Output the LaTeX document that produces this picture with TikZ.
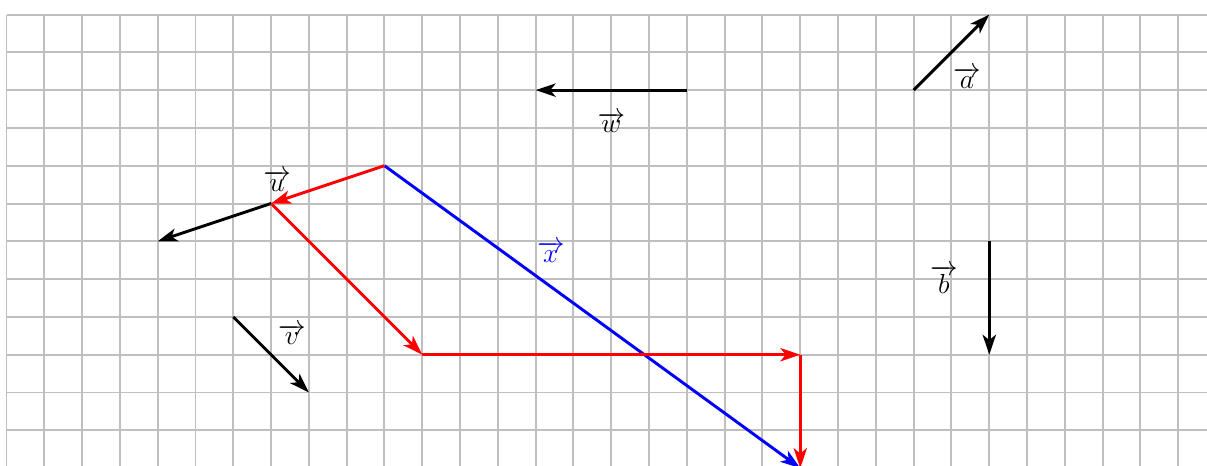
\documentclass[tikz,border=0pt]{standalone}
\usetikzlibrary{arrows.meta}
\begin{document}
\begin{tikzpicture}[
  gridline/.style={draw=gray!50,line width=1.5pt},
  vecarrow/.style={line width=2.2pt,-{Stealth[length=15pt,width=10pt,inset=4pt]}},
  lbl/.style={inner sep=0pt,font=\fontsize{21}{25}\selectfont}
]
\useasboundingbox (-0.172,0.384) rectangle (31.76,-11.92);
\clip (-0.172,0.384) rectangle (31.76,-11.92);
\draw[gridline] (0,0) grid (32,-12);
% points
\coordinate (P0) at (10,-4);
\coordinate (P1) at (7,-5);
\coordinate (U2) at (4,-6);
\coordinate (P2) at (11,-9);
\coordinate (P3) at (21,-9);
\coordinate (P4) at (21,-12);
\coordinate (V0) at (6,-8);
\coordinate (V1) at (8,-10);
\coordinate (W0) at (18,-2);
\coordinate (W1) at (14,-2);
\coordinate (A0) at (24,-2);
\coordinate (A1) at (26,0);
\coordinate (B0) at (26,-6);
\coordinate (B1) at (26,-9);
% black vectors
\draw[vecarrow,black] (P1) -- (U2);
\draw[vecarrow,black] (V0) -- (V1);
\draw[vecarrow,black] (W0) -- (W1);
\draw[vecarrow,black] (A0) -- (A1);
\draw[vecarrow,black] (B0) -- (B1);
% blue sum
\draw[vecarrow,blue] (P0) -- (P4);
% red chain
\draw[vecarrow,red] (P0) -- (P1);
\draw[vecarrow,red] (P1) -- (P2);
\draw[vecarrow,red] (P2) -- (P3);
\draw[vecarrow,red] (P3) -- (P4);
% labels
\node[lbl] (lu) at (7.16,-4.4) {$\overrightarrow{u}$};
\node[lbl] (lw) at (16.0,-2.86) {$\overrightarrow{w}$};
\node[lbl] (la) at (25.41,-1.68) {$\overrightarrow{a}$};
\node[lbl] (lb) at (24.8,-7.0) {$\overrightarrow{b}$};
\node[lbl] (lv) at (7.55,-8.47) {$\overrightarrow{v}$};
\node[lbl,text=blue] (lx) at (14.4,-6.28) {$\overrightarrow{x}$};
\end{tikzpicture}
\end{document}
